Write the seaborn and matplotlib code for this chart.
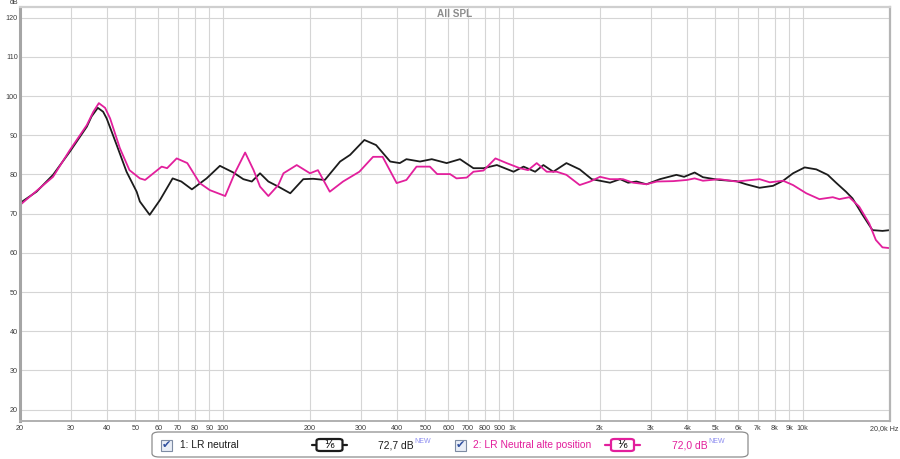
import numpy as np
import pandas as pd
import matplotlib
matplotlib.use("Agg")
import matplotlib.pyplot as plt
import matplotlib.transforms as mtrans
from matplotlib.patches import FancyBboxPatch, Rectangle
from matplotlib.lines import Line2D
from matplotlib.ticker import NullLocator
import seaborn as sns

# trace 1: LR neutral (Hz, dB)
freq_1 = [20, 22.8, 26.0, 29.7, 34, 35.3, 37.1, 38.7, 39.8, 43.1, 46.6, 50.5, 51.8, 56, 60.8,
          67.2, 72, 78.3, 88, 97.8, 108.8, 117.8, 126, 134.5, 143.7, 155.5, 171,
          189.6, 205, 225, 254, 275, 308, 338, 378, 408, 430, 479, 526, 592, 658,
          732, 793, 882, 1007, 1090, 1195, 1276, 1380, 1532, 1702, 1873, 2166,
          2346, 2500, 2672, 2892, 3218, 3668, 3900, 4240, 4530, 5160, 5894, 6380,
          7100, 7900, 8560, 9260, 10160, 11140, 12200, 13030, 14100, 14850, 16080,
          17400, 18840, 20000]
db_1 = [72.7, 75.6, 79.9, 85.8, 92.2, 94.8, 97.0, 96.0, 94.3, 87.5, 80.7, 75.6, 73.1, 69.7, 73.5,
        79.0, 78.2, 76.2, 79.0, 82.2, 80.5, 78.8, 78.2, 80.3, 78.2, 76.9, 75.2,
        78.8, 78.9, 78.6, 83.3, 85.0, 88.8, 87.5, 83.3, 82.9, 83.9, 83.3, 83.9, 82.9, 83.9,
        81.6, 81.6, 82.4, 80.7, 82.0, 80.7, 82.4, 80.7, 82.9, 81.3, 78.8, 77.9,
        78.8, 77.9, 78.2, 77.5, 78.8, 79.9, 79.4, 80.5, 79.3, 78.6, 78.3, 77.5,
        76.6, 77.1, 78.4, 80.3, 81.8, 81.3, 79.9, 77.9, 75.6, 73.9, 69.7,
        65.8, 65.6, 65.8]

# trace 2: LR Neutral alte position (Hz, dB)
freq_2 = [20, 26.0, 29.7, 34, 35.8, 37.4, 39.3, 40.9, 44.2, 47.7, 51.8, 54, 61.6, 64.3, 69.4,
          75.5, 83.3, 90.3, 102, 110, 119.5, 127.8, 134.5, 143.7, 155.5, 162, 180,
          200, 213, 234, 260, 296, 330, 356, 398, 430, 466, 518, 549, 608, 640,
          694, 732, 793, 872, 953, 1058, 1130, 1210, 1310, 1418, 1532, 1702, 1849,
          2000, 2166, 2400, 2600, 2892, 3142, 3580, 3988, 4240, 4530, 5160, 5894,
          7100, 7700, 8560, 9260, 10290, 11420, 12700, 13380, 14480, 15660, 16960,
          17870, 18840, 20000]
db_2 = [72.2, 79.4, 86.2, 92.6, 96.0, 98.2, 97.0, 94.3, 86.7, 81.1, 79.0, 78.6, 82.0, 81.6, 84.1,
        82.9, 77.8, 76.0, 74.5, 80.3, 85.6, 81.1, 76.9, 74.5, 77.3, 80.3, 82.4,
        80.3, 81.1, 75.6, 78.2, 80.7, 84.5, 84.5, 77.8, 78.6, 82.0, 82.0, 80.1, 80.1, 79.0,
        79.2, 80.7, 81.0, 84.1, 82.9, 81.6, 81.1, 82.9, 80.7, 80.7, 79.9, 77.3, 78.2,
        79.4, 78.8, 78.8, 77.9, 77.5, 78.2, 78.3, 78.6, 79.0, 78.4, 78.8, 78.2,
        78.8, 78.0, 78.4, 77.3, 75.2, 73.7, 74.2, 73.7, 74.2, 71.8, 67.5,
        63.3, 61.4, 61.2]

names = ["1: LR neutral", "2: LR Neutral alte position"]
levels = ["72,7 dB", "72,0 dB"]
xtick_vals = [20, 30, 40, 50, 60, 70, 80, 90, 100, 200, 300, 400, 500, 600, 700,
              800, 900, 1000, 2000, 3000, 4000, 5000, 6000, 7000, 8000, 9000,
              10000, 20000]
xtick_labels = ["20", "30", "40", "50", "60", "70", "80", "90", "100", "200", "300",
                "400", "500", "600", "700", "800", "900", "1k", "2k", "3k", "4k",
                "5k", "6k", "7k", "8k", "9k", "10k", "20,0k Hz"]
ytick_vals = list(range(20, 121, 10))

BLACK = "#1c1c1c"
PINK = "#e21f9c"

sns.set_style("white")
plt.rcParams["font.family"] = ["Liberation Sans", "DejaVu Sans"]

df = pd.concat([
    pd.DataFrame({"freq": freq_1, "db": db_1, "trace": names[0]}),
    pd.DataFrame({"freq": freq_2, "db": db_2, "trace": names[1]}),
])

W, H = 900, 459
fig = plt.figure(figsize=(W / 100, H / 100), dpi=100)
ax = fig.add_axes([20 / W, 1 - 421 / H, 870 / W, (421 - 7.3) / H])

sns.lineplot(data=df, x="freq", y="db", hue="trace", palette=[BLACK, PINK],
             estimator=None, sort=False, linewidth=1.3, legend=False, ax=ax)
for ln in ax.lines:
    ln.set_solid_joinstyle("round")

ax.set_xscale("log")
ax.set_xlim(20, 20000)
ax.set_ylim(17.1, 122.65)
ax.set_xticks(xtick_vals)
ax.set_xticklabels(xtick_labels)
ax.xaxis.set_minor_locator(NullLocator())
ax.set_yticks(ytick_vals)
ax.set_xlabel("")
ax.set_ylabel("")
ax.grid(True, color="#d5d5d5", linewidth=0.8)
ax.set_axisbelow(True)
ax.tick_params(axis="both", length=0, labelsize=5.2, colors="#3c3c3c")
ax.tick_params(axis="y", pad=1.5)
ax.tick_params(axis="x", pad=3)
last = ax.get_xticklabels()[-1]
last.set_horizontalalignment("right")
last.set_transform(last.get_transform() + mtrans.ScaledTranslation(0.085, 0, fig.dpi_scale_trans))

for side, col, lw in [("left", "#a5a5a5", 2.2), ("right", "#b5b5b5", 1.6),
                      ("top", "#cfcfcf", 1.6), ("bottom", "#b0b0b0", 1.4)]:
    ax.spines[side].set_visible(True)
    ax.spines[side].set_color(col)
    ax.spines[side].set_linewidth(lw)

ax.text(0.5, 0.995, "All SPL", transform=ax.transAxes, ha="center", va="top",
        fontsize=7.2, fontweight="bold", color="#8c8c8c")
fig.text(18 / W, 1 - 3 / H, "dB", ha="right", va="center", fontsize=5, color="#3c3c3c")


def fx(px):
    return px / W


def fy(py):
    return 1 - py / H


# legend panel
fig.patches.append(FancyBboxPatch((fx(152), fy(457)), fx(748) - fx(152), fy(432) - fy(457),
                                  boxstyle="round,pad=0,rounding_size=0.008",
                                  transform=fig.transFigure, facecolor="white",
                                  edgecolor="#8c8c8c", linewidth=0.9))

renderer = fig.canvas.get_renderer()
entries = [
    (161, 180, 312, 347, 378, BLACK),
    (455, 473, 605, 640, 672, PINK),
]
yc = 445
for (cbx, tx, l0, l1, lx, col), name, lev in zip(entries, names, levels):
    fig.patches.append(Rectangle((fx(cbx), fy(451)), 11 / W, 11 / H, transform=fig.transFigure,
                                 facecolor="#e9eef7", edgecolor="#7d8ba3", linewidth=0.8))
    fig.text(fx(cbx + 5.5), fy(yc), "\u2714", ha="center", va="center", fontsize=8,
             color="#2f4f9f", family="DejaVu Sans")
    fig.text(fx(tx), fy(yc), name, ha="left", va="center", fontsize=7.4, color=col)
    fig.lines.append(Line2D([fx(l0), fx(l1)], [fy(yc), fy(yc)], transform=fig.transFigure,
                            color=col, linewidth=1.6))
    bw = 26 if col == BLACK else 23
    bx = (l0 + l1) / 2 - bw / 2
    fig.patches.append(FancyBboxPatch((fx(bx), fy(451)), bw / W, 12 / H,
                                      boxstyle="round,pad=0,rounding_size=0.004",
                                      transform=fig.transFigure, facecolor="white",
                                      edgecolor=col, linewidth=1.6, zorder=3))
    fig.text(fx((l0 + l1) / 2), fy(yc), "\u00b9\u2044\u2086", ha="center", va="center",
             fontsize=8, color="black", family="DejaVu Sans", zorder=4)
    t = fig.text(fx(lx), fy(yc), lev, ha="left", va="center", fontsize=7.4, color=col)
    x_end = t.get_window_extent(renderer=renderer).x1
    fig.text(x_end / W + 0.5 / W, fy(yc - 3.5), "NEW", ha="left",
             va="center", fontsize=5, color="#8c8cf0")

fig.savefig("out.png", dpi=100, facecolor="white")
